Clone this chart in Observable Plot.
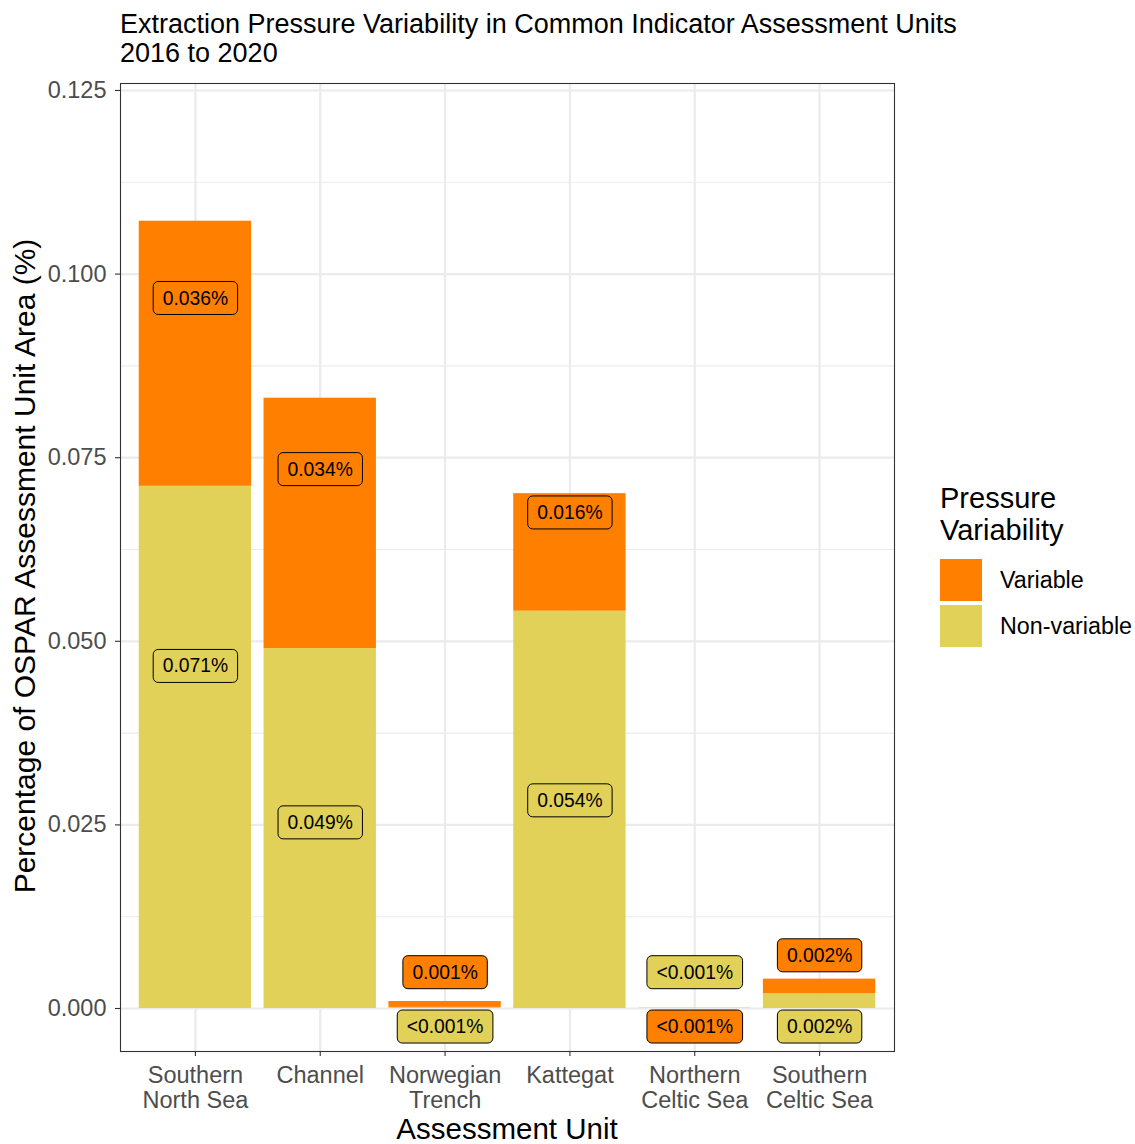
<!DOCTYPE html>
<html><head><meta charset="utf-8">
<script src="https://cdn.jsdelivr.net/npm/d3@7"></script>
<script src="https://cdn.jsdelivr.net/npm/@observablehq/plot@0.6"></script>
<style>
body{margin:0;background:#fff;font-family:"Liberation Sans",Arial,sans-serif;}
#wrap{position:relative;width:1135px;height:1144px;overflow:hidden;}
#chart{position:absolute;left:0;top:0;}
#title{position:absolute;left:120px;top:10px;font-size:27px;line-height:28.5px;color:#000;white-space:nowrap;}
#ytitle{position:absolute;left:25px;top:566px;font-size:30px;color:#000;white-space:nowrap;transform:translate(-50%,-50%) rotate(-90deg);}
#xtitle{position:absolute;left:507px;top:1128px;font-size:29.5px;line-height:29px;color:#000;white-space:nowrap;transform:translate(-50%,-50%);}
#legend{position:absolute;left:940px;top:482px;color:#000;}
#legend .lt{font-size:29px;line-height:32px;margin-bottom:11px;}
#legend .row{display:flex;align-items:center;height:46px;}
#legend .sw{width:42px;height:42px;margin-right:18px;}
#legend .lab{font-size:23.3px;}
</style></head><body>
<div id="wrap">
<div id="chart"></div>
<div id="title">Extraction Pressure Variability in Common Indicator Assessment Units<br>2016 to 2020</div>
<div id="ytitle">Percentage of OSPAR Assessment Unit Area (%)</div>
<div id="xtitle">Assessment Unit</div>
<div id="legend"></div>
</div>
<script>
const units = ["Southern\nNorth Sea","Channel","Norwegian\nTrench","Kattegat","Northern\nCeltic Sea","Southern\nCeltic Sea"];
const series = ["Variable","Non-variable"];
const colors = ["#FF7F00","#E1D158"];
const nonVariable = [0.0711,0.0490,0.00015,0.0541,0.00002,0.0020];
const variable = [0.0361,0.0341,0.0008,0.0160,0.00002,0.0020];
const nonVariableLabel = ["0.071%","0.049%","<0.001%","0.054%","<0.001%","0.002%"];
const variableLabel = ["0.036%","0.034%","0.001%","0.016%","<0.001%","0.002%"];
const nonVariableLabelY = [0.0466,0.0253,-0.0025,0.0283,0.0049,-0.0025];
const variableLabelY = [0.0967,0.0734,0.0049,0.0675,-0.0025,0.0072];
const yTicks = [0,0.025,0.05,0.075,0.1,0.125];
const yMinor = [0.0125,0.0375,0.0625,0.0875,0.1125];
const yDomain = [-0.005855,0.12595];

const bars = [];
units.forEach((u,i)=>bars.push({unit:u,series:"Non-variable",value:nonVariable[i]}));
units.forEach((u,i)=>bars.push({unit:u,series:"Variable",value:variable[i]}));
const labels = [];
units.forEach((u,i)=>labels.push({unit:u,series:"Variable",label:variableLabel[i],y:variableLabelY[i]}));
units.forEach((u,i)=>labels.push({unit:u,series:"Non-variable",label:nonVariableLabel[i],y:nonVariableLabelY[i]}));
const colorOf = s => colors[series.indexOf(s)];

const plot = Plot.plot({
  width:1135, height:1144,
  marginLeft:120, marginRight:241, marginTop:83, marginBottom:93,
  style:{fontFamily:"'Liberation Sans', Arial, sans-serif", fontSize:"19px", background:"white", overflow:"visible"},
  x:{domain:units, paddingInner:0.1, paddingOuter:0.15, round:false, label:null},
  y:{domain:yDomain, label:null},
  color:{domain:series, range:colors},
  marks:[
    Plot.ruleY(yMinor,{stroke:"#ebebeb",strokeWidth:1.1}),
    Plot.ruleY(yTicks,{stroke:"#ebebeb",strokeWidth:2.2}),
    Plot.ruleX(units,{x:d=>d,stroke:"#ebebeb",strokeWidth:2.2}),
    Plot.barY(bars,{x:"unit",y:"value",fill:"series"}),
    Plot.text(labels,{x:"unit",y:"y",text:"label",fill:"black",fontSize:19.3}),
    Plot.frame({stroke:"#333",strokeWidth:1.1}),
    Plot.axisY({ticks:yTicks,tickFormat:d3.format(".3f"),tickSize:5,tickPadding:9,fontSize:23.5,color:"#4d4d4d",label:null}),
    Plot.axisX({tickSize:5,tickPadding:9,fontSize:23.5,color:"#4d4d4d",lineHeight:1.07,label:null})
  ]
});
document.getElementById("chart").append(plot);
d3.select(plot).selectAll('g[aria-label="y-axis tick"], g[aria-label="x-axis tick"]').attr("stroke","#333").attr("stroke-width",1.1);

// label boxes behind label text
const NS = "http://www.w3.org/2000/svg";
const tg = plot.querySelector('g[aria-label="text"]');
tg.querySelectorAll("text").forEach((t,i)=>{
  const b = t.getBBox();
  const padX = 9.5, padY = 6;
  const r = document.createElementNS(NS,"rect");
  r.setAttribute("x", b.x-padX);
  r.setAttribute("y", b.y-padY);
  r.setAttribute("width", b.width+2*padX);
  r.setAttribute("height", b.height+2*padY);
  r.setAttribute("rx", 5);
  r.setAttribute("fill", colorOf(labels[i].series));
  r.setAttribute("stroke", "#000");
  r.setAttribute("stroke-width", 1);
  const tr = t.getAttribute("transform");
  if (tr) r.setAttribute("transform", tr);
  tg.insertBefore(r, t);
});

// legend
const lg = d3.select("#legend");
lg.append("div").attr("class","lt").html("Pressure<br>Variability");
series.forEach((s,i)=>{
  const row = lg.append("div").attr("class","row");
  row.append("div").attr("class","sw").style("background",colors[i]);
  row.append("div").attr("class","lab").text(s);
});
</script>
</body></html>
